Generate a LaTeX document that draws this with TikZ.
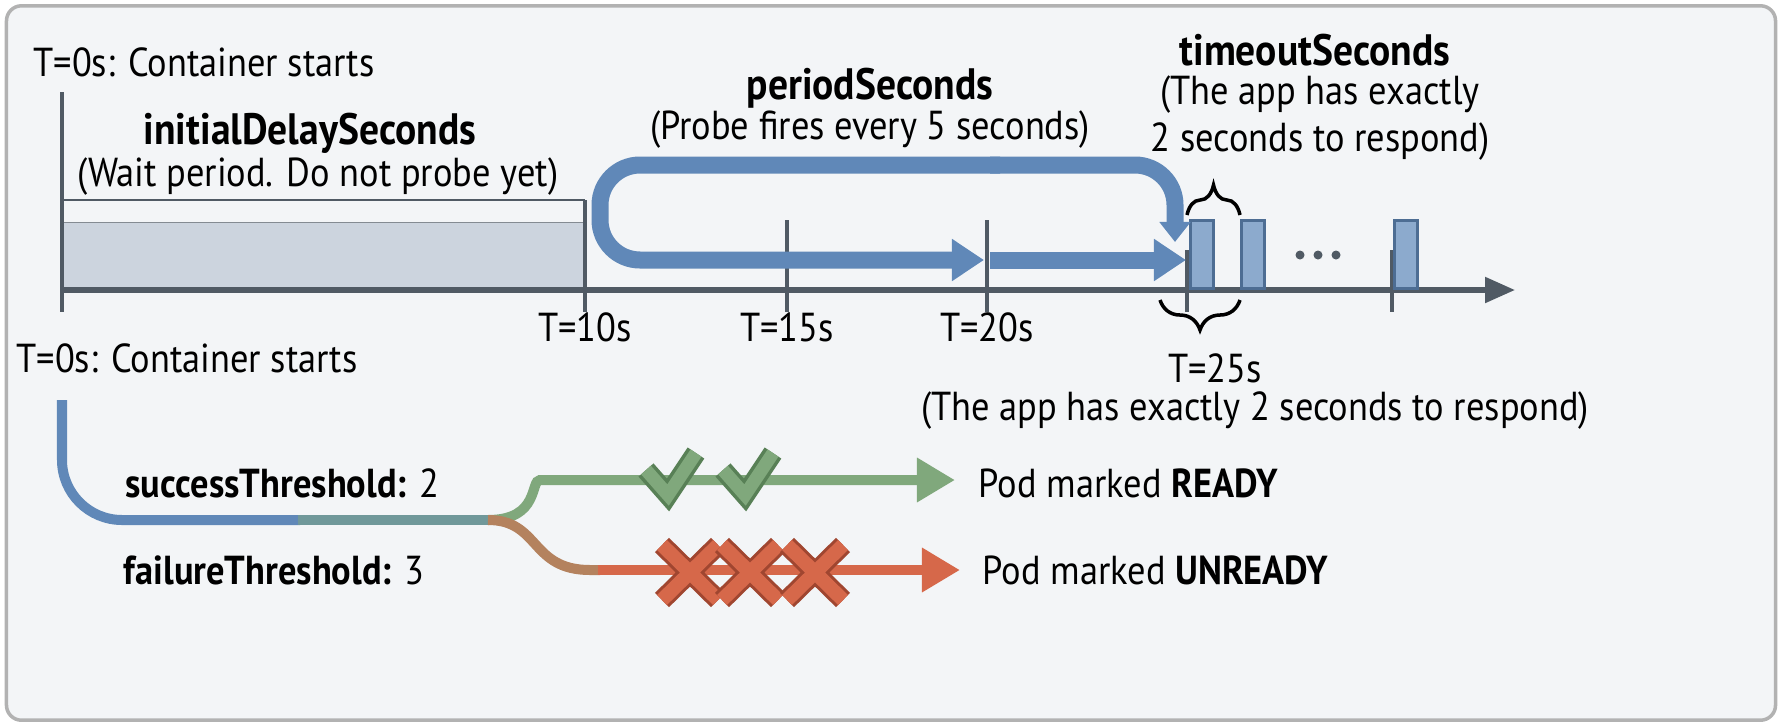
\documentclass[tikz,border=0pt]{standalone}
\usepackage{fontspec}
\setmainfont{PT Sans}[FakeStretch=0.9]
\usepackage{xcolor}
\usepackage{tikz}
\usetikzlibrary{arrows.meta,positioning,decorations.pathreplacing}
\definecolor{probeblue}{RGB}{96,136,184}
\definecolor{pulseblue}{RGB}{140,170,205}
\definecolor{waitgray}{RGB}{204,212,222}
\definecolor{okgreen}{RGB}{128,168,124}
\definecolor{okdark}{RGB}{88,128,86}
\definecolor{badred}{RGB}{214,104,74}
\definecolor{baddark}{RGB}{160,70,48}
\definecolor{axisgray}{RGB}{80,90,100}
\definecolor{panel}{RGB}{243,245,247}
\tikzset{
  lbl/.style={font=\fontsize{11.5}{13.5}\selectfont, inner sep=0pt},
  head/.style={lbl, font=\fontsize{12.5}{14.5}\selectfont\bfseries},
  tick/.style={draw=axisgray, line width=1.2pt},
  pulse/.style={draw=probeblue!80!black, fill=pulseblue, line width=0.8pt},
  flow/.style={line width=0.17cm, -{Triangle[length=0.32cm,width=0.4cm]}},
  brace/.style={draw=black, line width=1pt, decorate, decoration={brace, amplitude=0.3cm}}
}
\begin{document}
\begin{tikzpicture}[x=0.01cm, y=-0.01cm]
        \useasboundingbox (0,0) rectangle (1782,727);
        % panel
        \node[draw=gray!60, fill=panel, rounded corners=0.15cm, line width=1pt, minimum width=17.68cm, minimum height=7.14cm] (panel) at (891,363) {};

        % time axis
        \coordinate (t0) at (62,290);
        \coordinate (tend) at (1515,290);
        \node[fill=waitgray, draw=axisgray!70, minimum width=5.23cm, minimum height=0.66cm, inner sep=0pt, anchor=south west] (wait) at (62,289) {};
        \draw[axisgray, line width=0.8pt] (62,200) -- (585,200);
        \draw[axisgray, line width=1.5pt, -{Triangle[length=0.3cm,width=0.25cm]}] (t0) -- (tend);
        \draw[tick] (62,92) -- (62,312);
        \foreach \x/\y in {585/200, 787/220, 987/220, 1187/250, 1392/250}
          \draw[tick] (\x,\y) -- (\x,312);

        % probe pulses
        \foreach \x in {1189, 1240, 1393}
          \node[pulse, minimum width=0.23cm, minimum height=0.68cm, inner sep=0pt, anchor=south west] at (\x,290) {};
        \foreach \x in {1300, 1318, 1336}
          \fill[axisgray] (\x,255) circle (0.045cm);

        % periodSeconds loop
        \draw[flow, probeblue, rounded corners=0.4cm] (1000,165) -- (600,165) -- (600,260) -- (984,260);
        \draw[flow, probeblue] (990,260) -- (1186,260);
        \draw[flow, probeblue, rounded corners=0.4cm, -{Triangle[length=0.2cm,width=0.3cm]}] (990,165) -- (1175,165) -- (1175,242);

        % braces
        \draw[brace] (1187,215) -- (1240,215);
        \draw[brace] (1240,300) -- (1160,300);

        % labels
        \node[lbl] (start1) at (204,62) {T=0s: Container starts};
        \node[head] (idelay) at (310,133) {initialDelaySeconds};
        \node[lbl] (idelayn) at (318,177) {(Wait period. Do not probe yet)};
        \node[head] (period) at (870,88) {periodSeconds};
        \node[lbl] (periodn) at (870,130) {(Probe fires every 5 seconds)};
        \node[head] (timeout) at (1315,50) {timeoutSeconds};
        \node[lbl, align=center] (timeoutn) at (1320,118) {(The app has exactly\\2 seconds to respond)};
        \foreach \x/\t in {585/10, 787/15, 987/20}
          \node[lbl] at (\x,327) {T=\t s};
        \node[lbl] (t25) at (1215,368) {T=25s};
        \node[lbl] (timeoutn2) at (1255,411) {(The app has exactly 2 seconds to respond)};
        \node[lbl] (start2) at (187,358) {T=0s: Container starts};

        % thresholds
        \draw[line width=0.1cm, probeblue, rounded corners=0.6cm] (62,400) -- (62,520) -- (300,520);
        \draw[line width=0.1cm, probeblue!50!okgreen] (298,520) -- (490,520);
        \draw[line width=0.1cm, okgreen, rounded corners=0.5cm, -{Triangle[length=0.38cm,width=0.42cm]}]
          (488,520) .. controls (540,520) and (530,480) .. (590,480) -- (955,480);
        \draw[line width=0.1cm, badred!60!okgreen]
          (488,520) .. controls (540,520) and (530,570) .. (590,570) -- (600,570);
        \draw[line width=0.1cm, badred, -{Triangle[length=0.38cm,width=0.42cm]}] (598,570) -- (960,570);
        \node[lbl, anchor=east] (succ) at (440,483) {\textbf{successThreshold:} 2};
        \node[lbl, anchor=east] (fail) at (425,570) {\textbf{failureThreshold:} 3};

        % checks and crosses
        \foreach \x in {668, 745} {
          \draw[okdark, line width=0.2cm, line join=miter] (\x-22,470) -- (\x,495) -- (\x+28,453);
          \draw[okgreen, line width=0.13cm, line join=miter] (\x-22,470) -- (\x,495) -- (\x+28,453);
        }
        \foreach \x in {690, 750, 815} {
          \draw[baddark, line width=0.2cm] (\x-28,545) -- (\x+28,600) (\x-28,600) -- (\x+28,545);
          \draw[badred, line width=0.14cm] (\x-28,545) -- (\x+28,600) (\x-28,600) -- (\x+28,545);
        }
        \node[lbl, anchor=west] (ready) at (978,483) {Pod marked \textbf{READY}};
        \node[lbl, anchor=west] (unready) at (982,570) {Pod marked \textbf{UNREADY}};
    \end{tikzpicture}
\end{document}
